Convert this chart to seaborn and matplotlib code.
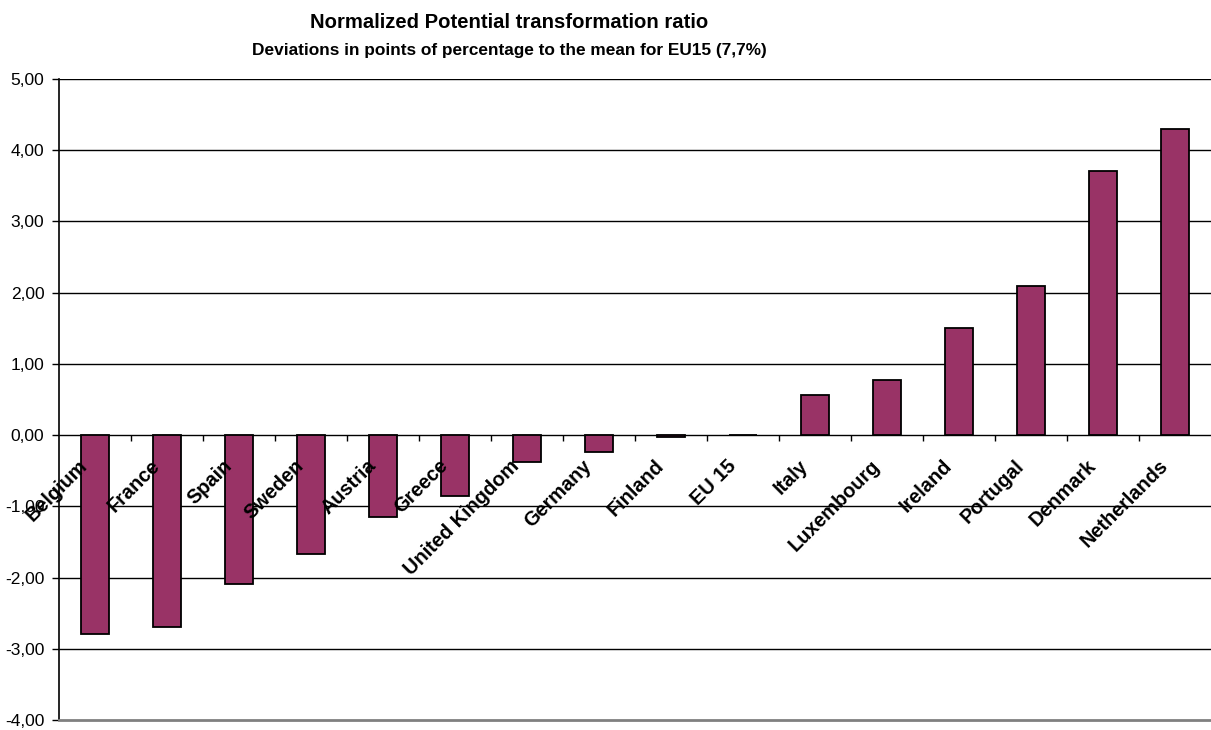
import matplotlib
matplotlib.use('Agg')
import matplotlib.pyplot as plt
import seaborn as sns
import numpy as np
import pandas as pd

countries = ['Belgium', 'France', 'Spain', 'Sweden', 'Austria', 'Greece',
             'United Kingdom', 'Germany', 'Finland', 'EU 15', 'Italy',
             'Luxembourg', 'Ireland', 'Portugal', 'Denmark', 'Netherlands']
deviations = [-2.79, -2.69, -2.09, -1.67, -1.15, -0.85, -0.38, -0.24, -0.03,
              0.00, 0.56, 0.78, 1.50, 2.09, 3.71, 4.30]
yticks = [-4, -3, -2, -1, 0, 1, 2, 3, 4, 5]
title = 'Normalized Potential transformation ratio'
subtitle = 'Deviations in points of percentage to the mean for EU15 (7,7%)'

sns.set_theme(style='white')
plt.rcParams['font.family'] = ['Liberation Sans', 'DejaVu Sans']
plt.rcParams['text.color'] = 'black'
plt.rcParams['axes.labelcolor'] = 'black'
plt.rcParams['xtick.color'] = 'black'
plt.rcParams['ytick.color'] = 'black'

W, H = 1211, 730
fig = plt.figure(figsize=(W / 100, H / 100), dpi=100)
ax = fig.add_axes([59 / W, 10 / H, (W - 59) / W, (720 - 79) / H])

df = pd.DataFrame({'country': countries, 'dev': deviations})
sns.barplot(data=df, x='country', y='dev', color='#993366', saturation=1,
            width=0.4, edgecolor='black', linewidth=1.3, ax=ax, zorder=3)

ax.set_xlim(-0.5, len(countries) - 0.5)
ax.set_ylim(yticks[0], yticks[-1])
ax.set_xticks([])
ax.set_xlabel('')
ax.set_ylabel('')
ax.set_yticks(yticks)
ax.set_yticklabels([f'{v:.2f}'.replace('.', ',') for v in yticks], fontsize=12.5)
ax.tick_params(axis='y', left=True, length=5, width=1, color='black', pad=5.5,
               labelcolor='black')

# horizontal gridlines
ax.hlines(yticks[1:], -0.5, len(countries) - 0.5, color='black', lw=1, zorder=1)

for s in ['top', 'right']:
    ax.spines[s].set_visible(False)
ax.spines['left'].set_color('black')
ax.spines['left'].set_linewidth(1.2)
ax.spines['bottom'].set_color('#808080')
ax.spines['bottom'].set_linewidth(2)

# category ticks on the zero line
ax.vlines(np.arange(1, len(countries)) - 0.5, 0, -0.08, color='black', lw=1, zorder=2)

for i, name in enumerate(countries):
    ax.annotate(name, xy=(i, 0), xytext=(-17, -21), textcoords='offset pixels',
                rotation=45, rotation_mode='anchor', ha='right', va='top',
                fontsize=14.3, fontweight='bold', color='black', zorder=5)

fig.text(509 / W, 1 - 22 / H, title, ha='center', va='center', fontsize=14.6,
         fontweight='bold', color='black')
fig.text(509 / W, 1 - 51 / H, subtitle, ha='center', va='center', fontsize=12.4,
         fontweight='bold', color='black')

fig.savefig('out.png', dpi=100)
